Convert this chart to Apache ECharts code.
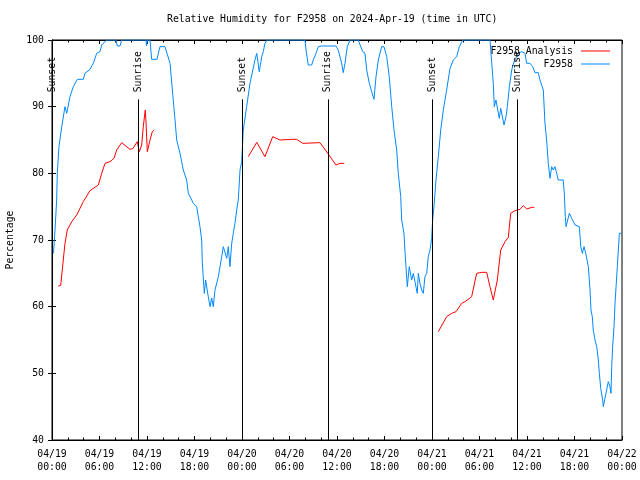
<!DOCTYPE html>
<html><head><meta charset="utf-8">
<script src="https://cdn.jsdelivr.net/npm/echarts@6/dist/echarts.min.js"></script>
<style>html,body{margin:0;padding:0;background:#fff}#c{width:640px;height:480px}</style>
</head><body><div id="c"></div>
<script>
// hours since 2024-04-19 00:00 UTC
const xTickLabels = ['04/19\n00:00','04/19\n06:00','04/19\n12:00','04/19\n18:00','04/20\n00:00','04/20\n06:00','04/20\n12:00','04/20\n18:00','04/21\n00:00','04/21\n06:00','04/21\n12:00','04/21\n18:00','04/22\n00:00'];

const blueHours = [0.19,0.38,0.59,0.67,0.88,1.23,1.64,1.86,2.06,2.27,2.69,3.20,3.95,4.17,4.80,5.22,5.65,6.06,6.28,6.91,8.08,8.25,8.59,8.80,11.87,11.94,12.04,12.38,12.59,13.26,13.64,14.27,14.91,15.28,15.54,15.75,16.17,16.58,17.01,17.22,17.65,17.85,18.28,18.48,18.69,18.91,18.98,19.11,19.24,19.41,19.74,19.96,20.17,20.37,20.59,21.01,21.44,21.64,22.07,22.27,22.48,22.70,22.90,23.11,23.33,23.53,23.75,23.96,24.16,24.59,25.01,25.64,25.86,26.18,26.49,26.69,26.90,27.19,31.96,32.09,32.37,32.80,33.00,33.35,33.64,34.07,35.87,36.16,36.59,36.79,37.01,37.30,37.64,38.69,38.90,39.25,39.54,39.75,40.08,40.38,40.58,40.67,40.93,41.22,41.64,41.93,42.28,42.60,42.91,43.20,43.54,43.74,44.05,44.17,44.46,44.59,44.71,44.88,45.13,45.43,45.64,45.85,46.14,46.27,46.48,46.70,46.90,47.11,47.33,47.53,47.75,47.96,48.08,48.25,48.50,48.80,49.10,49.43,49.85,50.27,50.69,51.12,51.45,51.88,55.33,55.55,55.74,55.87,56.08,56.33,56.50,56.68,56.93,57.10,57.35,57.52,57.77,58.07,58.36,58.70,58.90,59.33,59.75,59.96,60.38,60.72,61.01,61.43,61.64,62.06,62.27,62.48,62.69,62.90,63.12,63.32,63.53,63.75,63.95,64.58,64.71,64.84,64.93,65.35,65.65,66.07,66.61,66.79,66.99,67.21,67.42,67.75,67.96,68.08,68.25,68.37,68.59,68.81,69.01,69.14,69.31,69.56,69.64,69.85,70.06,70.27,70.48,70.61,70.70,70.82,70.99,71.12,71.25,71.41,71.54,71.67,71.98];
const blueRH = [68,71.5,76,80,84,87,90,89,89.2,91.5,93,94.1,94.1,95,95.6,96.5,98,98.25,99.25,100,100,99.1,99.1,100,100,99.1,100,100,97.1,97.1,99,99,96.5,91.5,88,85,83,80.5,79,77,76,75.5,75,73.5,72,70,66.75,64.3,62,64,61.5,60,61.3,60,62.5,64.5,67.5,69,67.25,69,66,69.5,71,72.5,74.5,76,80.5,81.75,86.5,90,93.5,97,98,95.25,97.5,98.25,99.5,100,100,98.5,96.25,96.25,97,98,99,99.1,99.1,98.5,96.5,95.1,96.5,99,100,100,99.3,98.25,98,95.5,93.5,92.25,92,91.1,94.5,97,99,99,97.5,94.5,90,86.5,83.5,80,76.5,73,71,68.25,66,63,66,64,65,65,62,65,63.5,62.5,62,64.5,65,67.5,68.5,70.25,73,75,79,82.5,86.5,89.5,92.5,95.75,97,97.5,99,100,100,96.5,93.5,90,91,91,88.25,89.75,90,87.25,88.5,90,93,95.5,96.75,97.5,98,98.25,98,96.5,96.5,96,95.1,95.1,94,92.5,87.5,85,81.5,79.25,81,80.5,81,80,79,79,77,73.5,72,74,73.25,72.25,72,69,68,69,68,66,62.5,59.5,58.5,56.5,55,54,52,50,47.75,46,45,46.25,47.5,48.75,48,47,51,54,57,60.5,63,66,68.5,71,71];

const redHours = [0.8,1.1,1.64,1.93,2.49,3.12,3.95,4.8,5.85,6.28,6.7,7.33,7.83,8.17,8.8,9.85,10.2,10.77,11.03,11.33,11.53,11.78,11.87,12.04,12.38,12.67,12.92, 18,
  24.8,25.86,26.9,27.88,28.8,30.28,30.9,31.67,33.85,34.9,35.87,36.38,36.92, 42,
  48.8,49.0,49.85,50.49,51.03,51.75,52.17,53.01,53.64,54.28,54.91,55.32,55.74,56.25,56.68,57.22,57.64,57.94,58.48,59.11,59.53,59.96,60.59,60.92];
const redRH = [63.1,63.2,69.5,71.5,72.75,73.75,75.75,77.4,78.25,80,81.5,81.75,82.25,83.5,84.6,83.6,83.7,84.75,83.25,84.25,87,89.5,87.75,83.25,85,86.25,86.5, null,
  82.5,84.65,82.5,85.5,85,85.1,85.1,84.5,84.6,82.9,81.25,81.5,81.5, null,
  56.25,56.2,58.5,59,59.25,60.5,60.75,61.5,65,65.15,65.15,63,61,64,68.5,69.75,70.4,74,74.4,74.6,75.15,74.65,74.9,74.9];

const sunsetHours = [0.05, 24.05, 48.05];
const sunriseHours = [10.9, 34.85, 58.8];
const sunLineTop = 91.1;

const FONT = 'DejaVu Sans Mono';
const FS = 9.8;
const blueData = blueHours.map((h,i)=>[h, blueRH[i]]);
const redData = redHours.map((h,i)=>[h, redRH[i]===null ? '-' : redRH[i]]);
const sunEvents = sunsetHours.map(h=>[h, sunLineTop, 'Sunset']).concat(sunriseHours.map(h=>[h, sunLineTop, 'Sunrise']));

const chart = echarts.init(document.getElementById('c'), null, {renderer:'canvas'});
const tickCommon = {inside:true, length:4, lineStyle:{color:'#000', width:1}};
const legendCommon = {orient:'vertical', right:30, padding:0, align:'right', icon:'rect', itemWidth:29, itemHeight:1,
  textStyle:{fontFamily:FONT, fontSize:FS, color:'#000', padding:[0,3,0,0]}};
chart.setOption({
  animation:false,
  backgroundColor:'#fff',
  textStyle:{fontFamily:FONT, color:'#000'},
  title:{text:'Relative Humidity for F2958 on 2024-Apr-19 (time in UTC)', left:167, top:14, padding:0,
    textStyle:{fontFamily:FONT, fontSize:FS, fontWeight:'normal', color:'#000'}},
  legend:[
    Object.assign({data:['F2958 Analysis'], top:46}, legendCommon),
    Object.assign({data:['F2958'], top:59}, legendCommon)
  ],
  grid:{left:52, right:18, top:40, bottom:40, containLabel:false, outerBoundsMode:'none',
    show:true, borderColor:'#000', borderWidth:1, backgroundColor:'transparent'},
  xAxis:[
    {type:'value', min:0, max:72, interval:6, position:'bottom',
      axisLine:{show:true, lineStyle:{color:'#000'}}, splitLine:{show:false},
      axisTick:tickCommon, minorTick:{show:true, splitNumber:3, length:2.5, lineStyle:{color:'#000'}},
      axisLabel:{margin:8, fontFamily:FONT, fontSize:FS, color:'#000', lineHeight:13,
        formatter:v=>xTickLabels[Math.round(v/6)]}},
    {type:'value', min:0, max:72, interval:6, position:'top',
      axisLine:{show:true, lineStyle:{color:'#000'}}, splitLine:{show:false},
      axisTick:tickCommon, minorTick:{show:true, splitNumber:3, length:2.5, lineStyle:{color:'#000'}},
      axisLabel:{show:false}}
  ],
  yAxis:[
    {type:'value', min:40, max:100, interval:10, position:'left',
      name:'Percentage', nameLocation:'middle', nameGap:35, nameRotate:90,
      nameTextStyle:{fontFamily:FONT, fontSize:FS, color:'#000'},
      axisLine:{show:true, lineStyle:{color:'#000'}}, splitLine:{show:false},
      axisTick:tickCommon,
      axisLabel:{margin:8, fontFamily:FONT, fontSize:FS, color:'#000'}},
    {type:'value', min:40, max:100, interval:10, position:'right',
      axisLine:{show:true, lineStyle:{color:'#000'}}, splitLine:{show:false},
      axisTick:tickCommon, axisLabel:{show:false}}
  ],
  series:[
    {name:'F2958 Analysis', type:'line', data:redData, showSymbol:false, symbol:'none', connectNulls:false,
      lineStyle:{color:'#ff0000', width:1}, itemStyle:{color:'#ff0000'}, z:3},
    {name:'F2958', type:'line', data:blueData, showSymbol:false, symbol:'none',
      lineStyle:{color:'#0088ff', width:1}, itemStyle:{color:'#0088ff'}, z:2},
    {name:'sun', type:'line', data:[], markLine:{silent:true, symbol:'none', label:{show:false},
      lineStyle:{color:'#000', width:1, type:'solid'},
      data: sunEvents.map(e=>[{coord:[e[0], e[1]]},{coord:[e[0], 40]}])}},
    {name:'sunlabels', type:'scatter', data:sunEvents, symbolSize:0, silent:true, z:5,
      label:{show:true, position:[0,-7], rotate:90, align:'left', verticalAlign:'middle',
        fontFamily:FONT, fontSize:FS, color:'#000', opacity:1, formatter:p=>p.data[2]}}
  ]
});
</script></body></html>
